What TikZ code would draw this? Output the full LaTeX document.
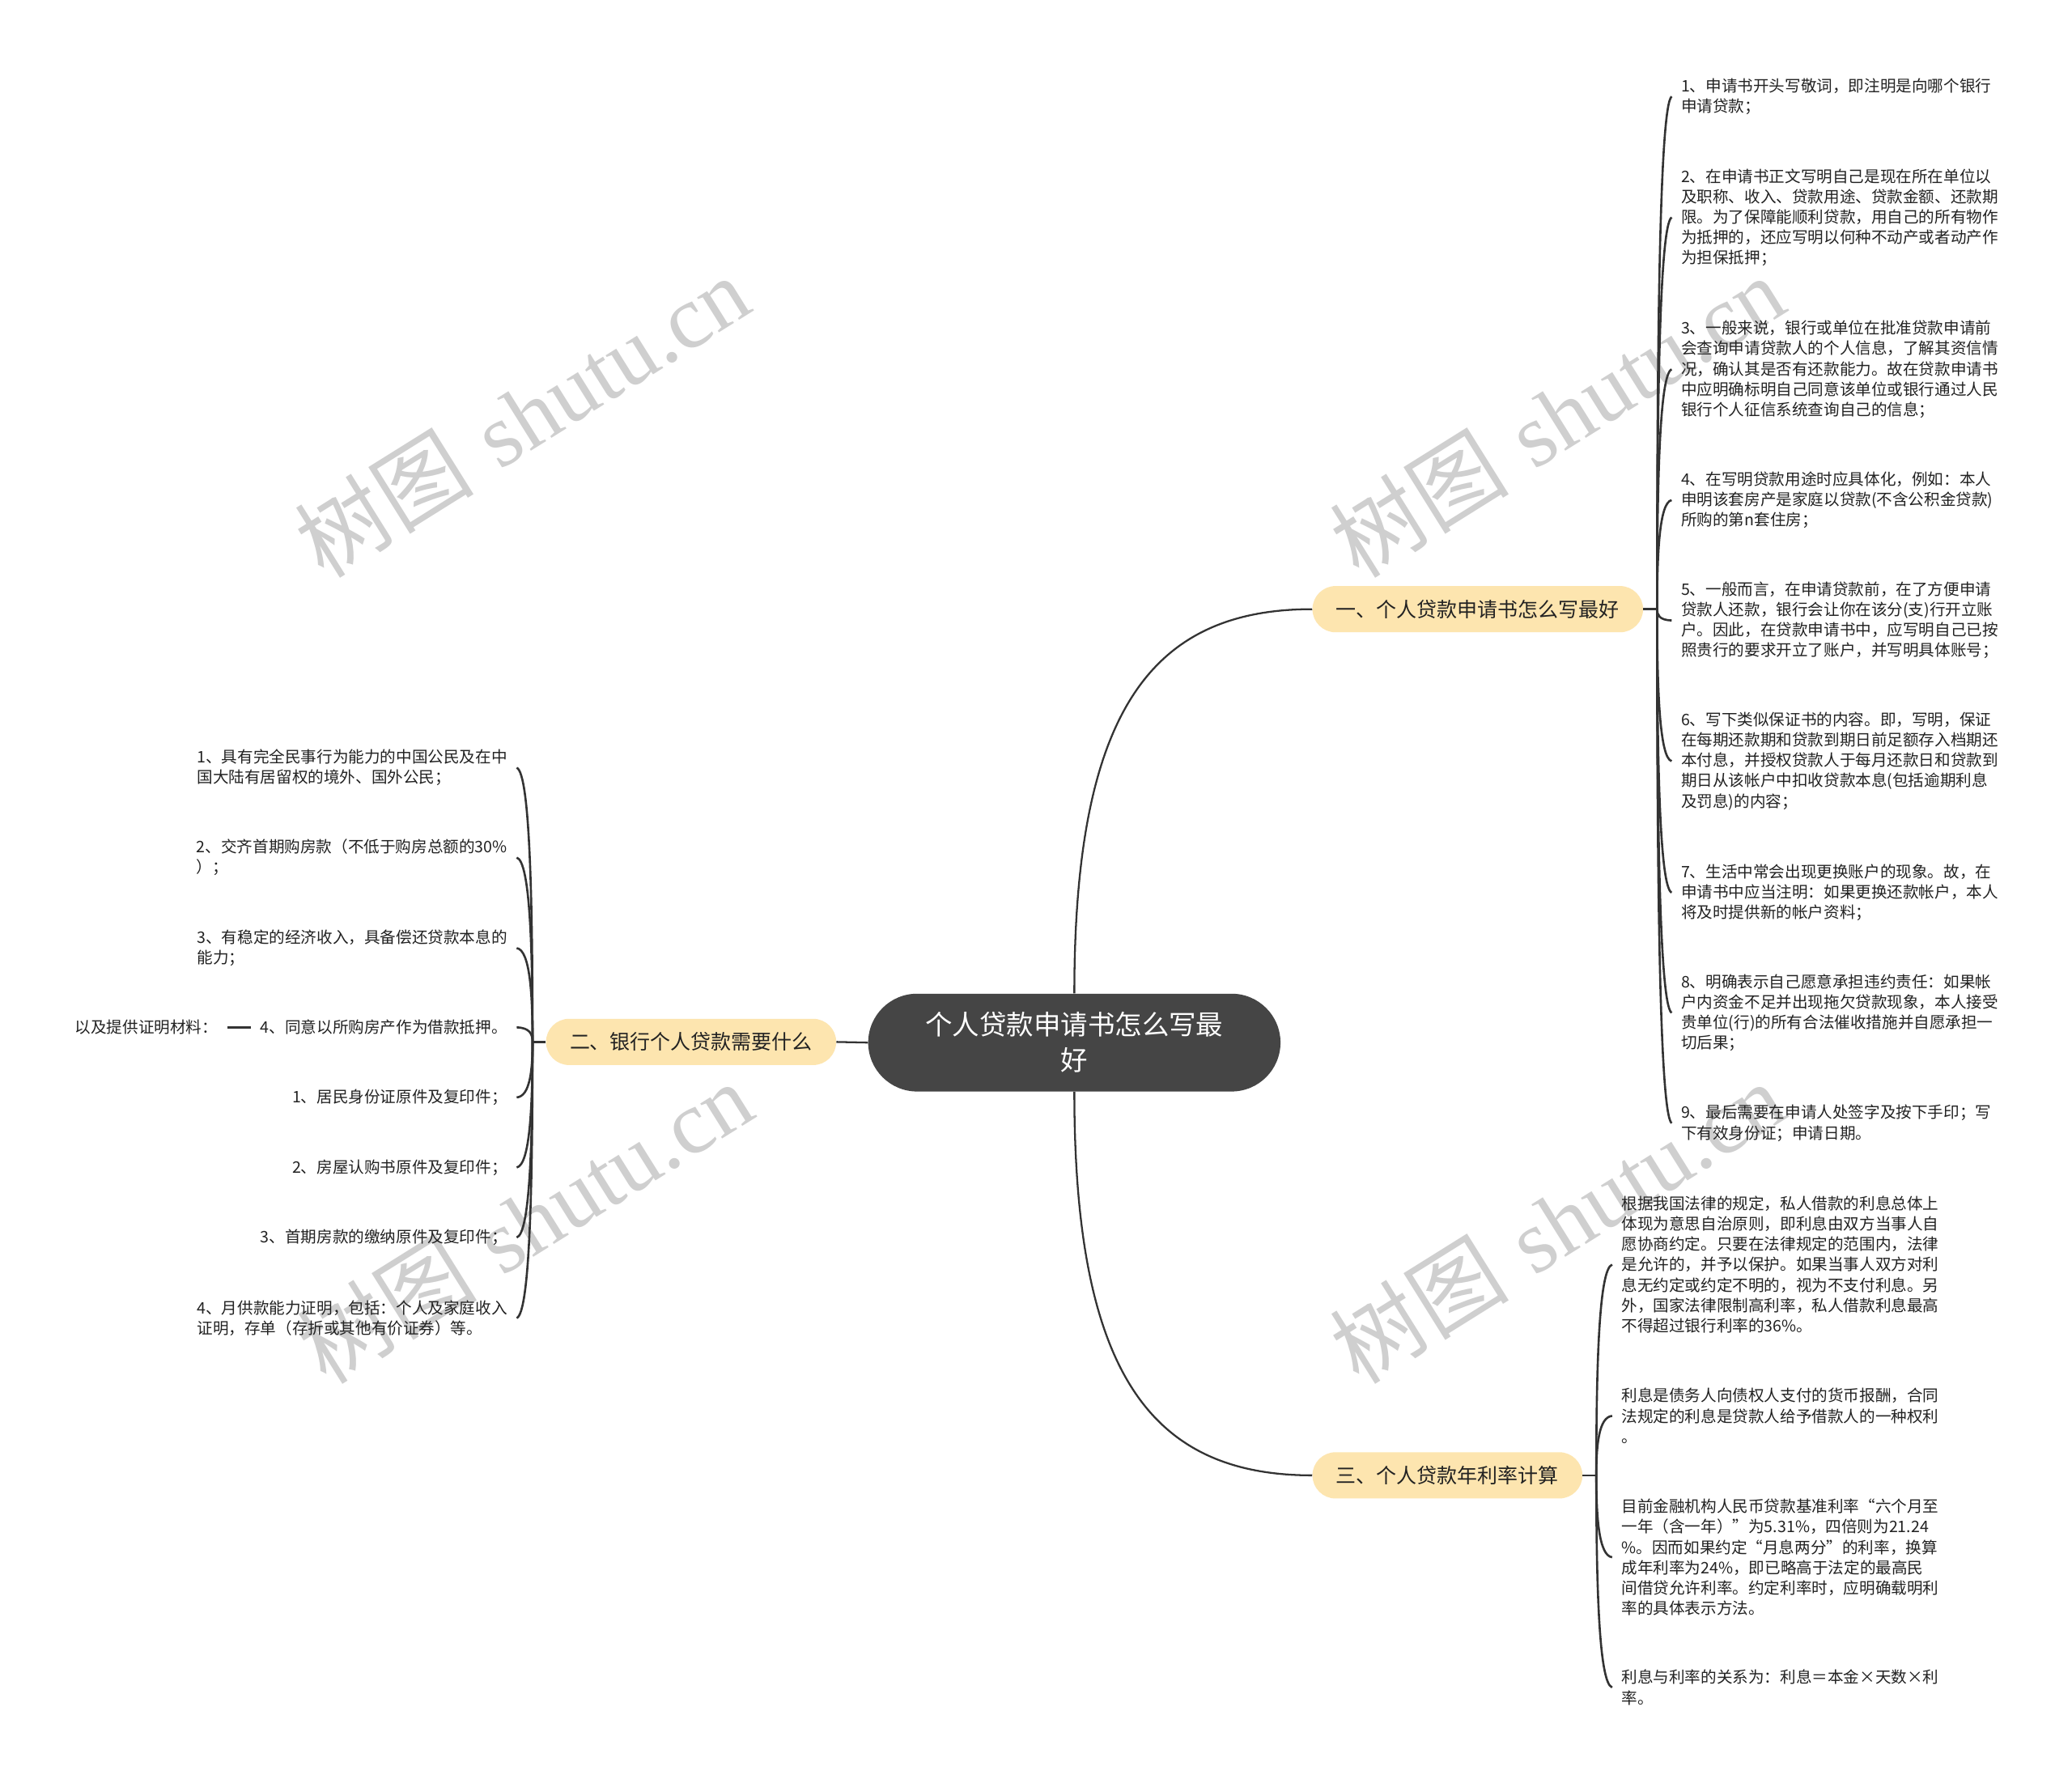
\documentclass[tikz,border=0pt]{standalone}
\usepackage{fontspec}
\newfontfamily\cjk{Noto Sans CJK SC}
\newfontfamily\wmserif{Liberation Serif}
\usetikzlibrary{calc}
\definecolor{cdark}{HTML}{454545}
\definecolor{cbranch}{HTML}{FDE5AF}
\definecolor{cline}{HTML}{333333}
\definecolor{ctext}{HTML}{222222}
\tikzset{
 conn/.style={draw=cline, line width=1.6pt},
 mainconn/.style={draw=cline, line width=1.4pt},
 rootbox/.style={fill=cdark, text=white, rounded corners=37pt, minimum width=312pt, minimum height=74pt, align=center, font=\cjk\fontsize{20.5}{27}\selectfont, inner sep=0pt},
 branchbox/.style={fill=cbranch, text=ctext, rounded corners=17.5pt, minimum height=35pt, inner xsep=18pt, inner ysep=0pt, font=\cjk\fontsize{15.3}{18}\selectfont},
 leaf/.style={text=ctext, align=left, inner xsep=7pt, inner ysep=2pt, font=\cjk\fontsize{12}{15.4}\selectfont},
 wm/.style={text=black!19, rotate=32, inner sep=0pt, font=\fontsize{68}{68}\selectfont},
}
\newcommand\leafconn[2]{%
 \draw[conn] let \p1=(#1), \p2=(#2) in (\p1) .. controls (\x1,{0.5*(\y1+\y2)}) and ({\x1+0.15*(\x2-\x1)},{\y2+0.02*(\y1-\y2)}) .. (\p2);}
\begin{document}
\begin{tikzpicture}[x=1pt,y=-1pt]
\useasboundingbox (0,0) rectangle (1568,1349);
\fill[white] (0,0) rectangle (1568,1349);
% watermarks
\node[wm] (wm1) at (395,315) {{\cjk 树图} {\wmserif shutu.cn}};
\node[wm] (wm2) at (1178,315) {{\cjk 树图} {\wmserif shutu.cn}};
\node[wm] (wm3) at (397,925) {{\cjk 树图} {\wmserif shutu.cn}};
\node[wm] (wm4) at (1178,925) {{\cjk 树图} {\wmserif shutu.cn}};
% main nodes
\node[rootbox] (root) at (813,789) {个人贷款申请书怎么写最\\好};
\node[branchbox, anchor=west] (b1) at (993,461) {一、个人贷款申请书怎么写最好};
\node[branchbox, anchor=east] (b2) at (633,788.5) {二、银行个人贷款需要什么};
\node[branchbox, anchor=west] (b3) at (993,1116.5) {三、个人贷款年利率计算};
\coordinate (p1) at (1254,461);
\coordinate (p2) at (403,788.5);
\coordinate (p3) at (1208,1116.5);
% branch 1 leaves
\node[leaf, anchor=west] (a1) at (1265,73) {1、申请书开头写敬词，即注明是向哪个银行\\申请贷款；};
\node[leaf, anchor=west] (a2) at (1265,164.5) {2、在申请书正文写明自己是现在所在单位以\\及职称、收入、贷款用途、贷款金额、还款期\\限。为了保障能顺利贷款，用自己的所有物作\\为抵押的，还应写明以何种不动产或者动产作\\为担保抵押；};
\node[leaf, anchor=west] (a3) at (1265,279.5) {3、一般来说，银行或单位在批准贷款申请前\\会查询申请贷款人的个人信息，了解其资信情\\况，确认其是否有还款能力。故在贷款申请书\\中应明确标明自己同意该单位或银行通过人民\\银行个人征信系统查询自己的信息；};
\node[leaf, anchor=west] (a4) at (1265,378.5) {4、在写明贷款用途时应具体化，例如：本人\\申明该套房产是家庭以贷款(不含公积金贷款)\\所购的第n套住房；};
\node[leaf, anchor=west] (a5) at (1265,469.5) {5、一般而言，在申请贷款前，在了方便申请\\贷款人还款，银行会让你在该分(支)行开立账\\户。因此，在贷款申请书中，应写明自己已按\\照贵行的要求开立了账户，并写明具体账号；};
\node[leaf, anchor=west] (a6) at (1265,576) {6、写下类似保证书的内容。即，写明，保证\\在每期还款期和贷款到期日前足额存入档期还\\本付息，并授权贷款人于每月还款日和贷款到\\期日从该帐户中扣收贷款本息(包括逾期利息\\及罚息)的内容；};
\node[leaf, anchor=west] (a7) at (1265,675.5) {7、生活中常会出现更换账户的现象。故，在\\申请书中应当注明：如果更换还款帐户，本人\\将及时提供新的帐户资料；};
\node[leaf, anchor=west] (a8) at (1265,766.5) {8、明确表示自己愿意承担违约责任：如果帐\\户内资金不足并出现拖欠贷款现象，本人接受\\贵单位(行)的所有合法催收措施并自愿承担一\\切后果；};
\node[leaf, anchor=west] (a9) at (1265,850) {9、最后需要在申请人处签字及按下手印；写\\下有效身份证；申请日期。};
% branch 2 leaves
\node[leaf, anchor=east] (c1) at (391,581) {1、具有完全民事行为能力的中国公民及在中\\国大陆有居留权的境外、国外公民；};
\node[leaf, anchor=east] (c2) at (391,649) {2、交齐首期购房款（不低于购房总额的30\%\\）；};
\node[leaf, anchor=east] (c3) at (391,717.5) {3、有稳定的经济收入，具备偿还贷款本息的\\能力；};
\node[leaf, anchor=east] (c4) at (391,777.5) {4、同意以所购房产作为借款抵押。};
\node[leaf, anchor=east] (c5) at (391,830.5) {1、居民身份证原件及复印件；};
\node[leaf, anchor=east] (c6) at (391,883.5) {2、房屋认购书原件及复印件；};
\node[leaf, anchor=east] (c7) at (391,936.5) {3、首期房款的缴纳原件及复印件；};
\node[leaf, anchor=east] (c8) at (391,997.5) {4、月供款能力证明，包括：个人及家庭收入\\证明，存单（存折或其他有价证券）等。};
\node[leaf, anchor=east] (extra) at (172,777.5) {以及提供证明材料：};
% branch 3 leaves
\node[leaf, anchor=west] (d1) at (1220,957) {根据我国法律的规定，私人借款的利息总体上\\体现为意思自治原则，即利息由双方当事人自\\愿协商约定。只要在法律规定的范围内，法律\\是允许的，并予以保护。如果当事人双方对利\\息无约定或约定不明的，视为不支付利息。另\\外，国家法律限制高利率，私人借款利息最高\\不得超过银行利率的36\%。};
\node[leaf, anchor=west] (d2) at (1220,1071.5) {利息是债务人向债权人支付的货币报酬，合同\\法规定的利息是贷款人给予借款人的一种权利\\。};
\node[leaf, anchor=west] (d3) at (1220,1178.5) {目前金融机构人民币贷款基准利率“六个月至\\一年（含一年）”为5.31\%，四倍则为21.24\\\%。因而如果约定“月息两分”的利率，换算\\成年利率为24\%，即已略高于法定的最高民\\间借贷允许利率。约定利率时，应明确载明利\\率的具体表示方法。};
\node[leaf, anchor=west] (d4) at (1220,1277) {利息与利率的关系为：利息＝本金×天数×利\\率。};
% connectors
\draw[mainconn] (root.north) .. controls (813,540) and (870,461) .. (b1.west);
\draw[mainconn] (root.south) .. controls (813,1038) and (870,1116.5) .. (b3.west);
\draw[mainconn] (root.west) -- (b2.east);
\draw[conn] (b1.east) -- (p1);
\draw[conn] (b2.west) -- (p2);
\draw[conn] (b3.east) -- (p3);
\foreach \i in {1,...,9} {\leafconn{p1}{a\i.west}}
\foreach \i in {1,...,8} {\leafconn{p2}{c\i.east}}
\foreach \i in {1,...,4} {\leafconn{p3}{d\i.west}}
\draw[conn] (c4.west) -- (extra.east);
\end{tikzpicture}
\end{document}
